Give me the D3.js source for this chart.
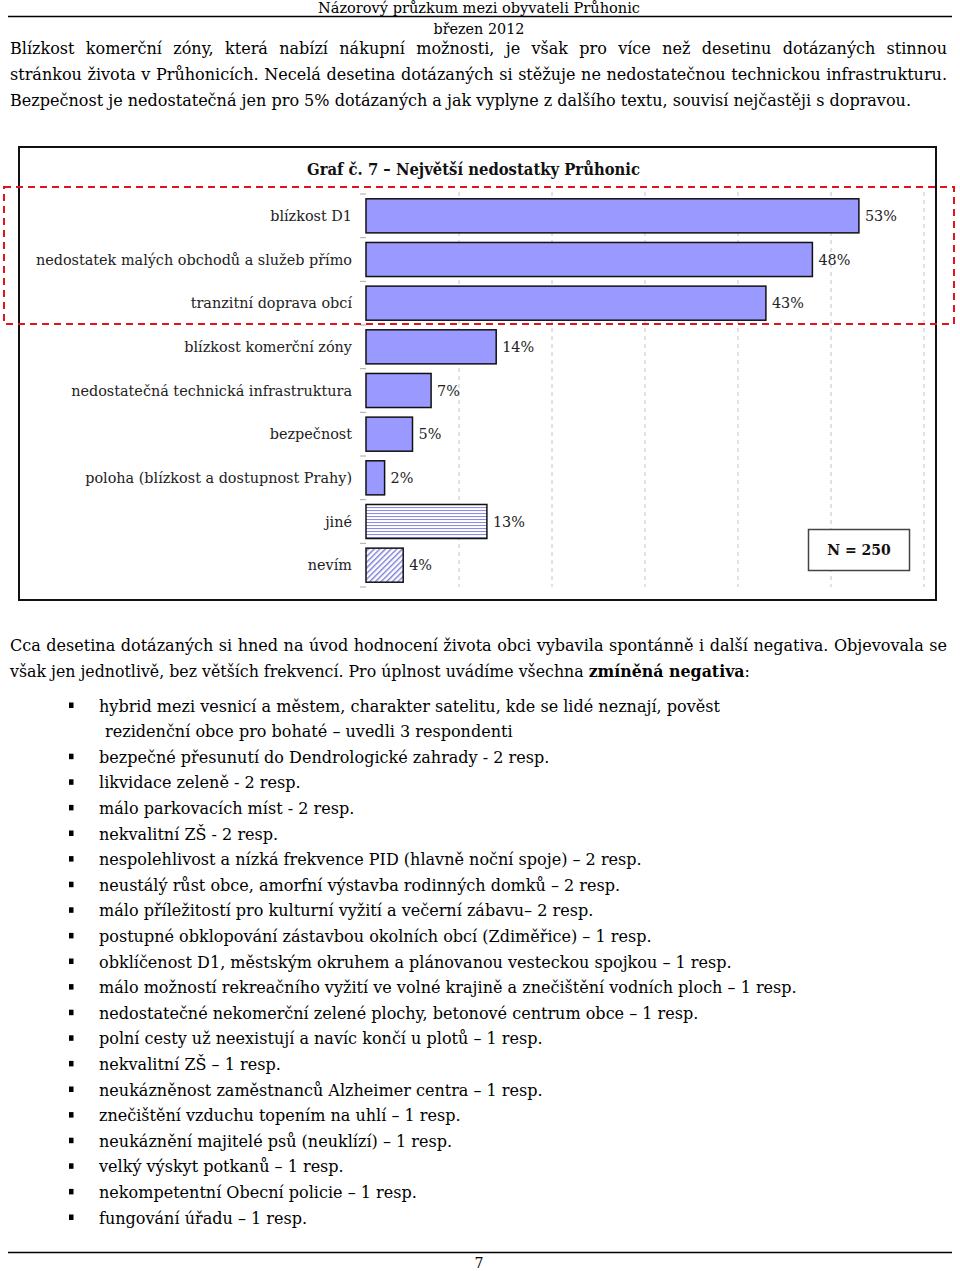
<!DOCTYPE html>
<html><head><meta charset="utf-8">
<script src="https://cdn.jsdelivr.net/npm/d3@7"></script>
<style>
html,body{margin:0;padding:0;background:#fff;}
svg{display:block;}
</style></head>
<body>
<svg id="page" width="960" height="1271"></svg>
<script>
// ---------- DATA ----------
const headerTitle = "Názorový průzkum mezi obyvateli Průhonic";
const headerDate = "březen 2012";
const introLines = [
  "Blízkost komerční zóny, která nabízí nákupní možnosti, je však pro více než desetinu dotázaných stinnou",
  "stránkou života v Průhonicích. Necelá desetina dotázaných si stěžuje ne nedostatečnou technickou infrastrukturu.",
  "Bezpečnost je nedostatečná jen pro 5% dotázaných a jak vyplyne z dalšího textu, souvisí nejčastěji s dopravou."
];
const introJustified = [true, true, false];
const chartTitle = "Graf č. 7 – Největší nedostatky Průhonic";
const categories = [
  "blízkost D1",
  "nedostatek malých obchodů a služeb přímo",
  "tranzitní doprava obcí",
  "blízkost komerční zóny",
  "nedostatečná technická infrastruktura",
  "bezpečnost",
  "poloha (blízkost a dostupnost Prahy)",
  "jiné",
  "nevím"
];
const values = [53, 48, 43, 14, 7, 5, 2, 13, 4];
const fillKinds = ["solid","solid","solid","solid","solid","solid","solid","hstripe","diag"];
const xTicks = [0, 10, 20, 30, 40, 50, 60];
const sampleNote = "N = 250";
const outroLine1 = "Cca desetina dotázaných si hned na úvod hodnocení života obci vybavila spontánně i další negativa. Objevovala se";
const outroLine2Parts = [
  {t: "však jen jednotlivě, bez větších frekvencí. Pro úplnost uvádíme všechna ", b: false},
  {t: "zmíněná negativa", b: true},
  {t: ":", b: false}
];
const listItems = [
  ["hybrid mezi vesnicí a městem, charakter satelitu, kde se lidé neznají, pověst", " rezidenční obce pro bohaté – uvedli 3 respondenti"],
  ["bezpečné přesunutí do Dendrologické zahrady - 2 resp."],
  ["likvidace zeleně - 2 resp."],
  ["málo parkovacích míst - 2 resp."],
  ["nekvalitní ZŠ - 2 resp."],
  ["nespolehlivost a nízká frekvence PID (hlavně noční spoje) – 2 resp."],
  ["neustálý růst obce, amorfní výstavba rodinných domků – 2 resp."],
  ["málo příležitostí pro kulturní vyžití a večerní zábavu– 2 resp."],
  ["postupné obklopování zástavbou okolních obcí (Zdiměřice) – 1 resp."],
  ["obklíčenost D1, městským okruhem a plánovanou vesteckou spojkou – 1 resp."],
  ["málo možností rekreačního vyžití ve volné krajině a znečištění vodních ploch – 1 resp."],
  ["nedostatečné nekomerční zelené plochy, betonové centrum obce – 1 resp."],
  ["polní cesty už neexistují a navíc končí u plotů – 1 resp."],
  ["nekvalitní ZŠ – 1 resp."],
  ["neukázněnost zaměstnanců Alzheimer centra – 1 resp."],
  ["znečištění vzduchu topením na uhlí – 1 resp."],
  ["neukáznění majitelé psů (neuklízí) – 1 resp."],
  ["velký výskyt potkanů – 1 resp."],
  ["nekompetentní Obecní policie – 1 resp."],
  ["fungování úřadu – 1 resp."]
];
const pageNumber = "7";

// ---------- DRAW ----------
const svg = d3.select("#page");
const DOC_FONT = "'DejaVu Serif', serif";
const CHART_FONT = "'DejaVu Serif', serif";
const DOC_SIZE = 17;
const K = 0.943; // horizontal condensation of document text

function docText(g, str, x, y, o) {
  o = o || {};
  const t = g.append("text").attr("x", x).attr("y", y)
    .attr("font-family", DOC_FONT).attr("font-size", o.size || DOC_SIZE)
    .attr("font-weight", o.bold ? "bold" : "normal")
    .attr("fill", o.fill || "#000").attr("xml:space", "preserve").text(str);
  const w0 = t.node().getComputedTextLength();
  const w = o.width || w0 * (o.k || K);
  t.attr("textLength", w).attr("lengthAdjust", "spacingAndGlyphs");
  if (o.center) t.attr("x", x - w / 2);
  return w;
}
function justifyLine(g, text, x0, x1, y) {
  const words = text.split(" ");
  const tmp = words.map(w => {
    const t = g.append("text").attr("font-family", DOC_FONT).attr("font-size", DOC_SIZE).text(w);
    const wd = t.node().getComputedTextLength() * K;
    t.remove();
    return wd;
  });
  const gap = (x1 - x0 - d3.sum(tmp)) / (words.length - 1);
  let x = x0;
  words.forEach((w, i) => { docText(g, w, x, y); x += tmp[i] + gap; });
}

// header
const head = svg.append("g");
docText(head, headerTitle, 479, 13, {size: 14.5, width: 322, center: true});
head.append("line").attr("x1", 8).attr("x2", 952).attr("y1", 16.5).attr("y2", 16.5)
  .attr("stroke", "#000").attr("stroke-width", 1.3);
docText(head, headerDate, 479, 34, {size: 14.5, width: 91, center: true});

// intro paragraph
const intro = svg.append("g");
introLines.forEach((ln, i) => {
  const y = 54 + i * 25.8;
  if (introJustified[i]) justifyLine(intro, ln, 10, 947, y);
  else docText(intro, ln, 10, y);
});

// ---------- CHART ----------
const chart = svg.append("g");
const defs = svg.append("defs");
const hp = defs.append("pattern").attr("id", "hstripe").attr("patternUnits", "userSpaceOnUse")
  .attr("width", 6).attr("height", 3);
hp.append("rect").attr("width", 6).attr("height", 3).attr("fill", "#fff");
hp.append("line").attr("x1", 0).attr("x2", 6).attr("y1", 0.5).attr("y2", 0.5)
  .attr("stroke", "#8c8ce6").attr("stroke-width", 1.1);
const dp = defs.append("pattern").attr("id", "diag").attr("patternUnits", "userSpaceOnUse")
  .attr("width", 4).attr("height", 4).attr("patternTransform", "rotate(45)");
dp.append("rect").attr("width", 4).attr("height", 4).attr("fill", "#fff");
dp.append("line").attr("x1", 0.7).attr("x2", 0.7).attr("y1", 0).attr("y2", 4)
  .attr("stroke", "#8080d8").attr("stroke-width", 1.5);

chart.append("rect").attr("x", 19).attr("y", 147).attr("width", 917).attr("height", 453)
  .attr("fill", "#fff").attr("stroke", "#111").attr("stroke-width", 2);

docText(chart, chartTitle, 473.5, 175, {size: 16.5, bold: true, width: 333, center: true, fill: "#111"});

const x = d3.scaleLinear().domain([0, 60]).range([366, 924]);
const y = d3.scaleBand().domain(categories).range([194, 587]).paddingInner(0.22).paddingOuter(0.11);

chart.append("g").selectAll("line").data(xTicks.filter(d => d > 0)).join("line")
  .attr("x1", d => x(d)).attr("x2", d => x(d)).attr("y1", 192).attr("y2", 587)
  .attr("stroke", "#c4c4c4").attr("stroke-width", 1).attr("stroke-dasharray", "4,4");

const step = y.step();
const half = (step - y.bandwidth()) / 2;
const bounds = categories.map(c => y(c) - half).concat([y(categories[categories.length-1]) + y.bandwidth() + half]);
chart.append("g").selectAll("line").data(bounds).join("line")
  .attr("x1", 360).attr("x2", 366).attr("y1", d => d).attr("y2", d => d)
  .attr("stroke", "#aaa").attr("stroke-width", 1);

chart.append("g").selectAll("rect").data(categories).join("rect")
  .attr("x", x(0)).attr("y", d => y(d))
  .attr("width", (d, i) => x(values[i]) - x(0)).attr("height", y.bandwidth())
  .attr("fill", (d, i) => fillKinds[i] === "solid" ? "#9999ff" : `url(#${fillKinds[i]})`)
  .attr("stroke", "#111").attr("stroke-width", 1.5);

chart.append("g").selectAll("text").data(categories).join("text")
  .attr("x", 352).attr("y", d => y(d) + y.bandwidth() / 2).attr("dy", "0.36em")
  .attr("text-anchor", "end").attr("font-family", CHART_FONT).attr("font-size", 14.4)
  .attr("fill", "#222").text(d => d);

chart.append("g").selectAll("text").data(categories).join("text")
  .attr("x", (d, i) => x(values[i]) + 6).attr("y", d => y(d) + y.bandwidth() / 2).attr("dy", "0.36em")
  .attr("font-family", CHART_FONT).attr("font-size", 14.4).attr("fill", "#222")
  .text((d, i) => values[i] + "%");

chart.append("rect").attr("x", 808.5).attr("y", 529.5).attr("width", 101).attr("height", 41)
  .attr("fill", "#fff").attr("stroke", "#444").attr("stroke-width", 1.5);
chart.append("text").attr("x", 859).attr("y", 550).attr("dy", "0.36em").attr("text-anchor", "middle")
  .attr("font-family", CHART_FONT).attr("font-size", 14).attr("font-weight", "bold").attr("fill", "#111")
  .text(sampleNote);

svg.append("rect").attr("x", 4).attr("y", 187).attr("width", 950).attr("height", 137)
  .attr("fill", "none").attr("stroke", "#e0141e").attr("stroke-width", 2).attr("stroke-dasharray", "7,5");

// ---------- OUTRO ----------
const outro = svg.append("g");
justifyLine(outro, outroLine1, 10, 947, 651);
const l2 = outro.append("text").attr("x", 10).attr("y", 677)
  .attr("font-family", DOC_FONT).attr("font-size", DOC_SIZE).attr("fill", "#000")
  .attr("xml:space", "preserve");
outroLine2Parts.forEach(p => l2.append("tspan").attr("font-weight", p.b ? "bold" : "normal").text(p.t));
l2.attr("textLength", l2.node().getComputedTextLength() * K * 0.985).attr("lengthAdjust", "spacingAndGlyphs");

const list = svg.append("g");
let row = 0;
listItems.forEach(item => {
  item.forEach((ln, j) => {
    const by = 711.5 + row * 25.6;
    if (j === 0) {
      list.append("rect").attr("x", 69).attr("y", by - 9).attr("width", 4.5).attr("height", 5.5).attr("fill", "#000");
    }
    docText(list, ln, j === 0 ? 99 : 100, by);
    row++;
  });
});

svg.append("line").attr("x1", 8).attr("x2", 952).attr("y1", 1252.5).attr("y2", 1252.5)
  .attr("stroke", "#000").attr("stroke-width", 1.3);
docText(svg, pageNumber, 479, 1268, {center: true, size: 15});
</script>
</body></html>
